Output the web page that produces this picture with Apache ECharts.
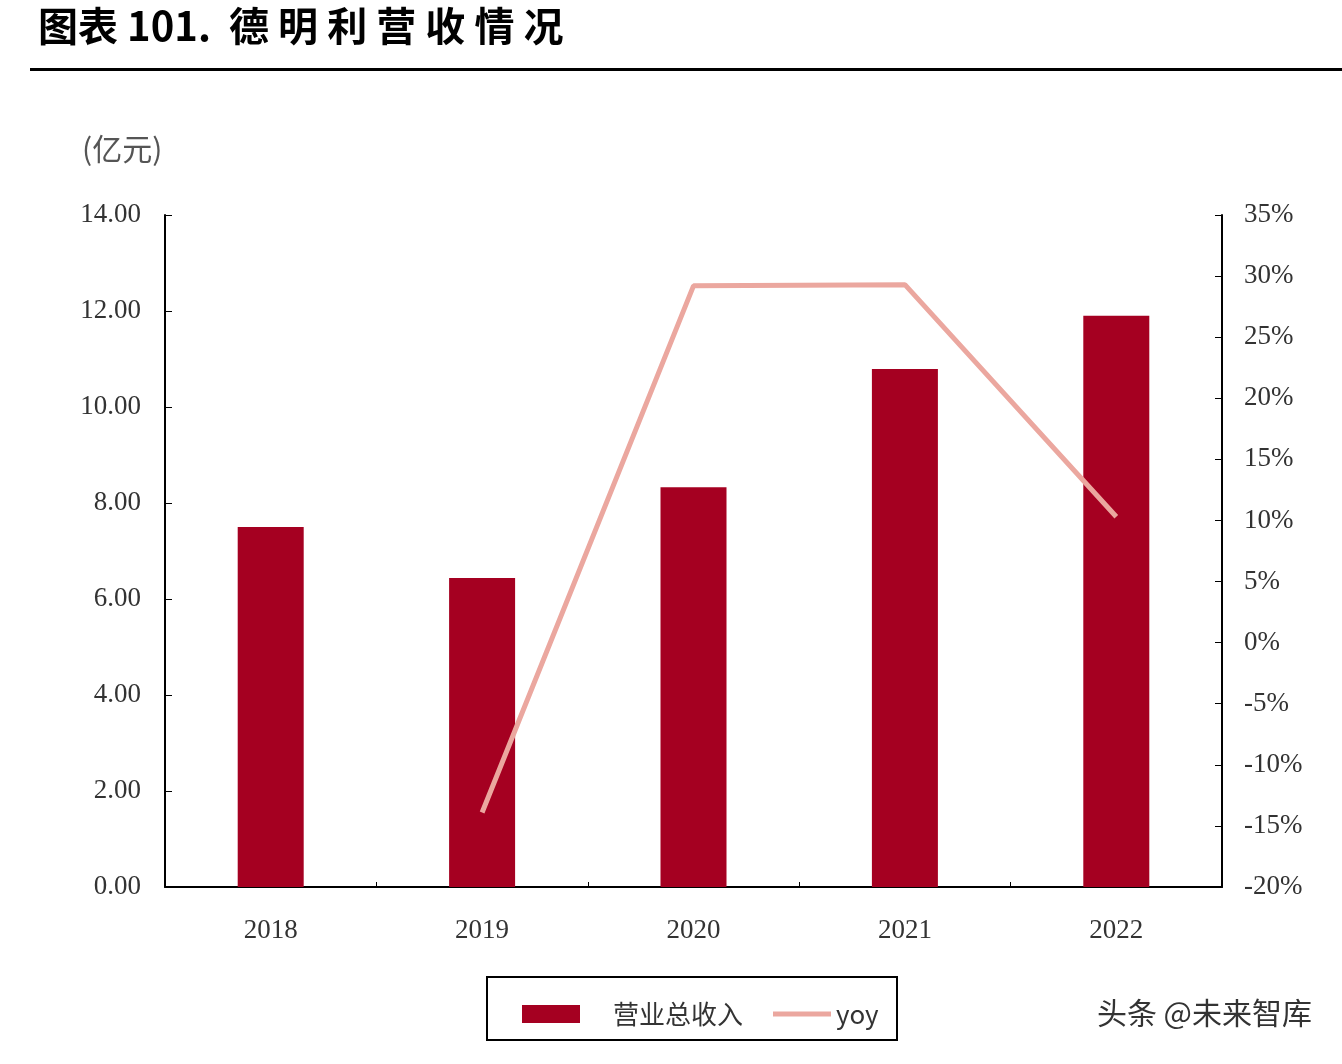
<!DOCTYPE html>
<html><head><meta charset="utf-8">
<script src="https://cdn.jsdelivr.net/npm/echarts@6/dist/echarts.min.js"></script>
<style>html,body{margin:0;padding:0;background:#fff}#c{width:1342px;height:1064px}</style>
</head><body><div id="c"></div>
<script>
const categories = ['2018','2019','2020','2021','2022'];
const revenue = [7.50, 6.44, 8.33, 10.79, 11.90];
const yoy = [null, -13.9, 29.2, 29.3, 10.3];
const serif = '"Liberation Serif","DejaVu Serif",serif';
const chart = echarts.init(document.getElementById('c'));
chart.setOption({
  animation:false,
  graphic:[
    {type:'text',left:38,top:6,style:{text:'图表 101.  德 明 利 营 收 情 况',font:'bold 40px "Noto Sans CJK SC",serif',fill:'#000'}},
    {type:'rect',shape:{x:30,y:68,width:1312,height:3},style:{fill:'#000'}},
    {type:'text',left:82,top:134,style:{text:'(亿元)',font:'30px "Noto Sans CJK SC"',fill:'#555'}},
    {type:'rect',shape:{x:487,y:977,width:410,height:63},style:{fill:'none',stroke:'#000',lineWidth:2}},
    {type:'text',right:30,top:998,style:{text:'头条 @未来智库',font:'30px "Noto Sans CJK SC"',fill:'#333'}}
  ],
  grid:{left:165,right:120,top:215,bottom:177},
  legend:{left:517,top:996,itemWidth:58,itemHeight:18,itemGap:30,
    textStyle:{fontSize:26,fontFamily:'"Noto Sans CJK SC"',color:'#333',padding:[0,0,0,28]},
    data:[{name:'营业总收入',icon:'rect'},
          {name:'yoy',icon:'path://M0,0 L60,0 L60,5 L0,5 Z',textStyle:{padding:[0,0,0,0]}}]},
  xAxis:{type:'category',data:categories,
    axisLine:{lineStyle:{color:'#000',width:2}},
    axisTick:{show:true,inside:true,lineStyle:{color:'#000'}},
    axisLabel:{fontFamily:serif,fontSize:27,color:'#333',margin:30}},
  yAxis:[
    {type:'value',min:0,max:14,interval:2,splitLine:{show:false},
     axisLine:{show:true,lineStyle:{color:'#000',width:2}},
     axisTick:{show:true,inside:true,length:7,lineStyle:{color:'#000'}},
     axisLabel:{fontFamily:serif,fontSize:27,color:'#333',margin:24,formatter:v=>v.toFixed(2)}},
    {type:'value',min:-20,max:35,interval:5,splitLine:{show:false},
     axisLine:{show:true,lineStyle:{color:'#000',width:2}},
     axisTick:{show:true,inside:true,length:7,lineStyle:{color:'#000'}},
     axisLabel:{fontFamily:serif,fontSize:27,color:'#333',margin:22,formatter:v=>v+'%'}}
  ],
  series:[
    {name:'营业总收入',type:'bar',data:revenue,barWidth:66,itemStyle:{color:'#A50021'}},
    {name:'yoy',type:'line',yAxisIndex:1,data:yoy,symbol:'none',
     lineStyle:{color:'#EBA79F',width:5},itemStyle:{color:'#EBA79F'}}
  ]
});
</script></body></html>
